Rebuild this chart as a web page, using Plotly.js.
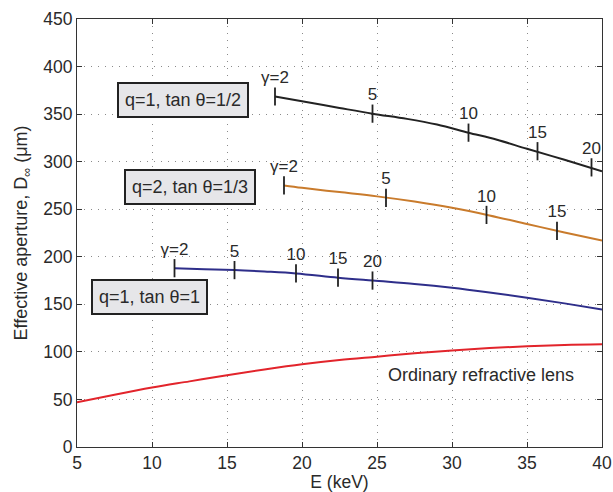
<!DOCTYPE html>
<html>
<head>
<meta charset="utf-8">
<script src="https://cdn.plot.ly/plotly-3.0.1.min.js"></script>
<style>html,body{margin:0;padding:0;background:#fff;}#chart{width:613px;height:492px;}</style>
</head>
<body>
<div id="chart"></div>
<script>
// q=1, tan θ=1/2 (black)
const E_q1_half = [18.2, 20, 22.5, 24.7, 27, 29, 31.1, 33, 35, 37.5, 40];
const D_q1_half = [368.5, 363.5, 356.5, 350.5, 345, 339, 330.5, 323, 313.5, 302, 290];
// q=2, tan θ=1/3 (orange)
const E_q2_third = [18.8, 20, 22.5, 25, 27.5, 30, 32.5, 35, 37.5, 40];
const D_q2_third = [275, 272.5, 268, 263.5, 258, 251.5, 243.5, 234.5, 225.5, 217];
// q=1, tan θ=1 (blue)
const E_q1_one = [11.5, 13.5, 15.5, 17.5, 19.6, 22.4, 24.7, 27.5, 30, 32.5, 35, 37.5, 40];
const D_q1_one = [188, 187, 186, 184.5, 182.5, 178, 175, 171.5, 167.5, 162.5, 157, 151, 144.5];
// Ordinary refractive lens (red)
const E_ord = [5, 7.5, 10, 12.5, 15, 17.5, 20, 22.5, 25, 27.5, 30, 32.5, 35, 37.5, 40];
const D_ord = [47, 55, 62.5, 69, 75.5, 81.5, 87, 91.5, 95, 98.5, 101.5, 104, 106, 107.3, 108];

// gamma tick marks along curves
const gLabels_q1_half = ["γ=2", "5", "10", "15", "20"];
const gE_q1_half = [18.2, 24.7, 31.1, 35.7, 39.3];
const gD_q1_half = [368.5, 350.5, 330.5, 311, 294];
const gLabels_q2_third = ["γ=2", "5", "10", "15"];
const gE_q2_third = [18.8, 25.6, 32.3, 37.0];
const gD_q2_third = [275, 262, 244, 227.3];
const gLabels_q1_one = ["γ=2", "5", "10", "15", "20"];
const gE_q1_one = [11.5, 15.5, 19.6, 22.4, 24.7];
const gD_q1_one = [188, 186, 182.5, 178, 175];

// text boxes
const boxTexts = ["q=1, tan θ=1/2", "q=2, tan θ=1/3", "q=1, tan θ=1"];
const boxE = [12.09, 12.5, 9.81];
const boxD = [365.2, 273.4, 157.9];
const lensText = "Ordinary refractive lens";
const lensE = 31.9, lensD = 75.2;

const FONT = "Liberation Sans, Arial, Helvetica, sans-serif";
const TXT = "#2a2a2a";

function curve(x, y, color) {
  return {x: x, y: y, type: "scatter", mode: "lines", line: {color: color, width: 2, shape: "spline", smoothing: 1}, hoverinfo: "skip", showlegend: false};
}
function ticks(x, y, labels) {
  return {x: x, y: y, text: labels, type: "scatter", mode: "markers+text",
    marker: {symbol: "line-ns-open", size: 13, color: "#222", line: {color: "#222", width: 1.8}},
    textposition: "top center", textfont: {family: FONT, size: 17, color: TXT},
    hoverinfo: "skip", showlegend: false, cliponaxis: false};
}

const data = [
  curve(E_ord, D_ord, "#e2242b"),
  curve(E_q1_one, D_q1_one, "#2e2e8a"),
  curve(E_q2_third, D_q2_third, "#c97b2c"),
  curve(E_q1_half, D_q1_half, "#222222"),
  ticks(gE_q1_half, gD_q1_half, gLabels_q1_half),
  ticks(gE_q2_third, gD_q2_third, gLabels_q2_third),
  ticks(gE_q1_one, gD_q1_one, gLabels_q1_one)
];

const annotations = boxTexts.map((t, i) => ({
  x: boxE[i], y: boxD[i], xref: "x", yref: "y", text: t, showarrow: false,
  font: {family: FONT, size: 18, color: TXT},
  bgcolor: "#e6e6e9", bordercolor: "#222", borderwidth: 2, borderpad: 6
}));
annotations.push({x: lensE, y: lensD, xref: "x", yref: "y", text: lensText, showarrow: false,
  font: {family: FONT, size: 18, color: TXT}});

const axisCommon = {
  showline: true, linecolor: "#333", linewidth: 1, mirror: "ticks",
  ticks: "inside", ticklen: 5, tickcolor: "#333",
  showgrid: true, gridcolor: "#8a8a8a", gridwidth: 1, griddash: "1px,6px",
  zeroline: false, tickfont: {family: FONT, size: 17.5, color: TXT}
};

const layout = {
  width: 613, height: 492,
  margin: {l: 77, r: 11, t: 19, b: 45},
  paper_bgcolor: "#fff", plot_bgcolor: "#fff",
  xaxis: Object.assign({}, axisCommon, {range: [5, 40], tick0: 5, dtick: 5,
    title: {text: "E (keV)", font: {family: FONT, size: 17.5, color: TXT}, standoff: 6}}),
  yaxis: Object.assign({}, axisCommon, {range: [0, 450], dtick: 50,
    title: {text: "Effective aperture, D<sub>∞</sub> (μm)", font: {family: FONT, size: 18, color: TXT}, standoff: 10}}),
  annotations: annotations,
  showlegend: false
};

Plotly.newPlot("chart", data, layout, {staticPlot: true});
</script>
</body>
</html>
